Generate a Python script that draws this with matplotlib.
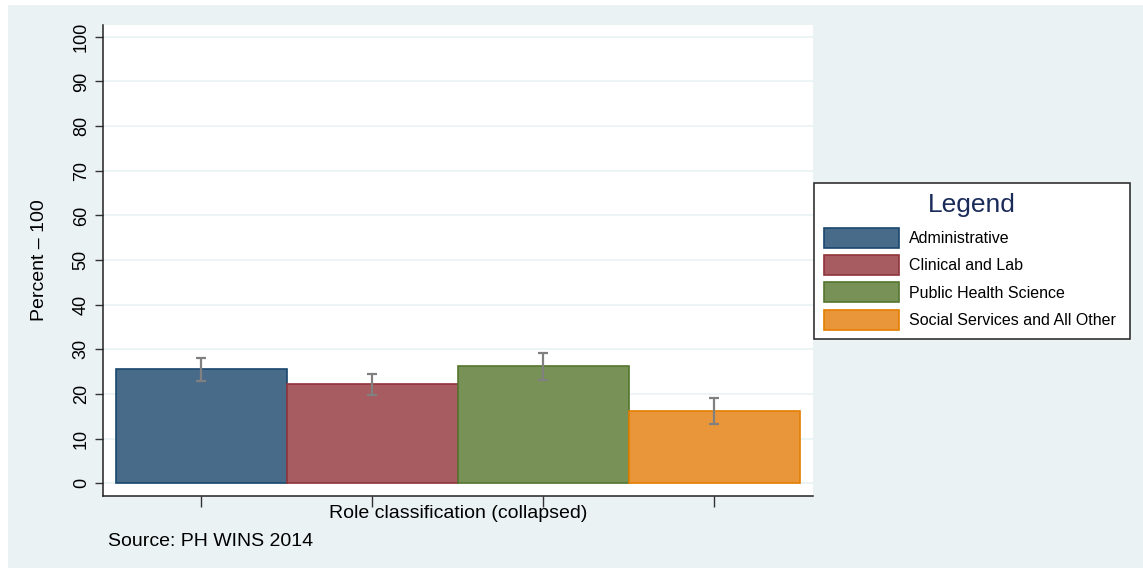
import matplotlib
matplotlib.use("Agg")
import matplotlib.pyplot as plt
from matplotlib.patches import Patch, Rectangle

plt.rcParams['font.family'] = ['Liberation Sans', 'DejaVu Sans']

categories = ["Administrative", "Clinical and Lab", "Public Health Science", "Social Services and All Other"]
values = [25.5, 22.2, 26.2, 16.2]
ci_low = [22.9, 19.7, 23.2, 13.2]
ci_high = [28.0, 24.5, 29.1, 19.1]
yticks = [0, 10, 20, 30, 40, 50, 60, 70, 80, 90, 100]

fill_colors = ["#496b8a", "#a65c60", "#789156", "#e9963a"]
edge_colors = ["#1a476f", "#90353b", "#55752f", "#e37e00"]
bg = "#eaf2f3"

W, H = 1143, 571
fig = plt.figure(figsize=(W / 100, H / 100), dpi=100)
fig.patch.set_facecolor("white")
fig.add_artist(Rectangle((8 / W, 3 / H), (W - 8) / W, (H - 8) / H, transform=fig.transFigure,
                         facecolor=bg, edgecolor="none", zorder=0))

def fx(px):
    return px / W

def fy(py):
    return 1 - py / H

ax = fig.add_axes([fx(103), fy(495.5), fx(813) - fx(103), fy(24.7) - fy(495.5)])
ax.set_facecolor("white")

x = list(range(len(categories)))
ax.bar(x, values, width=1.0, color=fill_colors, edgecolor=edge_colors, linewidth=1.2, zorder=3)
yerr = [[v - l for v, l in zip(values, ci_low)], [h - v for v, h in zip(values, ci_high)]]
ax.errorbar(x, values, yerr=yerr, fmt="none", ecolor="#808080", elinewidth=1.6,
            capsize=3.8, capthick=1.6, zorder=4)

ax.set_xlim(-0.5 - 13 / 171, 3.5 + 13 / 171)
ax.set_ylim(-2.73, 102.7)
ax.set_yticks(yticks)
ax.set_yticklabels([str(t) for t in yticks], rotation=90, va="center", fontsize=13)
ax.set_xticks(x)
ax.set_xticklabels([])
ax.tick_params(axis="both", direction="out", length=6, width=1, color="#333333", pad=3.5)
ax.tick_params(axis="x", length=8)
ax.grid(axis="y", color=bg, linewidth=1.2, zorder=0)
ax.set_axisbelow(True)
for s in ["top", "right"]:
    ax.spines[s].set_visible(False)
for s in ["left", "bottom"]:
    ax.spines[s].set_color("#222222")
    ax.spines[s].set_linewidth(1.1)

fig.text(fx(40), fy(260), "Percent \u2013 100", rotation=90, ha="center", va="center", fontsize=14)
fig.text(fx(458), fy(514), "Role classification (collapsed)", ha="center", va="center", fontsize=14)
fig.text(fx(108), fy(541), "Source: PH WINS 2014", ha="left", va="center", fontsize=14)

handles = [Patch(facecolor=fc, edgecolor=ec, linewidth=1.2) for fc, ec in zip(fill_colors, edge_colors)]
leg = fig.legend(handles, categories, loc="upper left",
                 bbox_to_anchor=(fx(814), fy(338), fx(1130) - fx(814), fy(183) - fy(338)),
                 bbox_transform=fig.transFigure, mode="expand",
                 title="Legend", fontsize=11.5, title_fontsize=19, frameon=True,
                 fancybox=False, edgecolor="#222222", facecolor="white", framealpha=1,
                 handlelength=4.7, handleheight=1.55, labelspacing=0.45, handletextpad=0.65,
                 borderpad=0.6, borderaxespad=0)
leg.get_title().set_color("#1a2b5a")
leg.get_frame().set_linewidth(1.1)
leg._legend_box.sep = 0.45 * 11.5 + 3.0

fig.savefig("out.png", dpi=100, facecolor="white")
